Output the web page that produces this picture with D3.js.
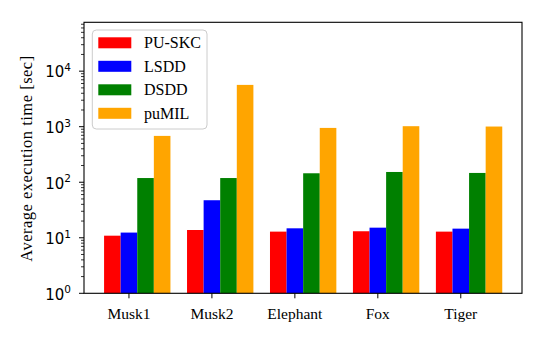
<!DOCTYPE html>
<html><head><meta charset="utf-8">
<script src="https://cdn.jsdelivr.net/npm/d3@7"></script>
<style>body{margin:0;background:#fff}svg{display:block}</style>
</head><body>
<script>
const categories = ["Musk1", "Musk2", "Elephant", "Fox", "Tiger"];
const seriesNames = ["PU-SKC", "LSDD", "DSDD", "puMIL"];
const seriesColors = ["#ff0000", "#0000ff", "#008000", "#ffa500"];
const puSKC = [10.9, 13.8, 12.9, 13.1, 12.9];
const lsdd  = [12.4, 47.4, 14.8, 15.2, 14.6];
const dsdd  = [119, 119, 145, 153, 147];
const pumil = [683, 5660, 951, 1021, 1007];
const yTickExps = [0, 1, 2, 3, 4];
const yLabel = "Average execution time [sec]";

const series = [puSKC, lsdd, dsdd, pumil];
const W = 545, H = 341;
const L = 84, R = 522, T = 22.3, B = 293.3;

const svg = d3.select("body").append("svg").attr("width", W).attr("height", H);

const x = d3.scaleLinear().domain([-0.542, 4.738]).range([L, R]);
const y = d3.scaleLog().domain([1, Math.pow(10, 4.88)]).range([B, T]);
const bw = 0.2;

// bars (tick sits at the centre of the second bar)
series.forEach((vals, s) => {
  svg.append("g").selectAll("rect").data(vals).join("rect")
    .attr("x", (d, i) => x(i + (s - 1) * bw - bw / 2))
    .attr("width", x(bw) - x(0))
    .attr("y", d => y(d))
    .attr("height", d => B - y(d))
    .attr("fill", seriesColors[s]);
});

// y ticks
const gY = svg.append("g");
const minor = [];
for (let e = 0; e < 5; e++) for (let m = 2; m <= 9; m++) {
  const v = m * Math.pow(10, e);
  if (v <= y.domain()[1]) minor.push(v);
}
gY.selectAll("line.minor").data(minor).join("line")
  .attr("x1", L - 3).attr("x2", L).attr("y1", d => y(d)).attr("y2", d => y(d))
  .attr("stroke", "#000").attr("stroke-width", 0.8);
gY.selectAll("line.major").data(yTickExps).join("line")
  .attr("x1", L - 5).attr("x2", L).attr("y1", d => y(Math.pow(10, d))).attr("y2", d => y(Math.pow(10, d)))
  .attr("stroke", "#000").attr("stroke-width", 1);
const tl = gY.selectAll("text").data(yTickExps).join("text")
  .attr("x", 71).attr("y", d => y(Math.pow(10, d)) + 6.3)
  .attr("text-anchor", "end")
  .attr("font-family", "DejaVu Sans").attr("font-size", 15).attr("fill", "#000");
tl.append("tspan").text("10");
tl.append("tspan").attr("dy", -6.5).attr("font-size", 10.5).text(d => d);

// x ticks
const gX = svg.append("g");
gX.selectAll("line").data(categories).join("line")
  .attr("x1", (d, i) => x(i)).attr("x2", (d, i) => x(i))
  .attr("y1", B).attr("y2", B + 5).attr("stroke", "#000").attr("stroke-width", 1);
gX.selectAll("text").data(categories).join("text")
  .attr("x", (d, i) => x(i)).attr("y", 319)
  .attr("text-anchor", "middle")
  .attr("font-family", "Liberation Serif").attr("font-size", 15.5).attr("fill", "#000")
  .text(d => d);

// frame
svg.append("rect").attr("x", L).attr("y", T).attr("width", R - L).attr("height", B - T)
  .attr("fill", "none").attr("stroke", "#000").attr("stroke-width", 1.1);

// y label
svg.append("text")
  .attr("transform", `translate(32,${(T + B) / 2 + 1}) rotate(-90)`)
  .attr("text-anchor", "middle")
  .attr("font-family", "Liberation Serif").attr("font-size", 16.5).attr("fill", "#000")
  .attr("textLength", 206).attr("lengthAdjust", "spacing")
  .text(yLabel);

// legend
const lg = svg.append("g");
lg.append("rect").attr("x", 92.3).attr("y", 30).attr("width", 114.7).attr("height", 99)
  .attr("rx", 4).attr("fill", "#fff").attr("fill-opacity", 0.8)
  .attr("stroke", "#cccccc").attr("stroke-width", 1);
seriesNames.forEach((n, i) => {
  const cy = 42.8 + i * 23.5;
  lg.append("rect").attr("x", 98.3).attr("y", cy - 5.5).attr("width", 33).attr("height", 11)
    .attr("fill", seriesColors[i]);
  lg.append("text").attr("x", 144).attr("y", cy + 5.5)
    .attr("font-family", "Liberation Serif").attr("font-size", 16).attr("fill", "#000")
    .text(n);
});
</script>
</body></html>
